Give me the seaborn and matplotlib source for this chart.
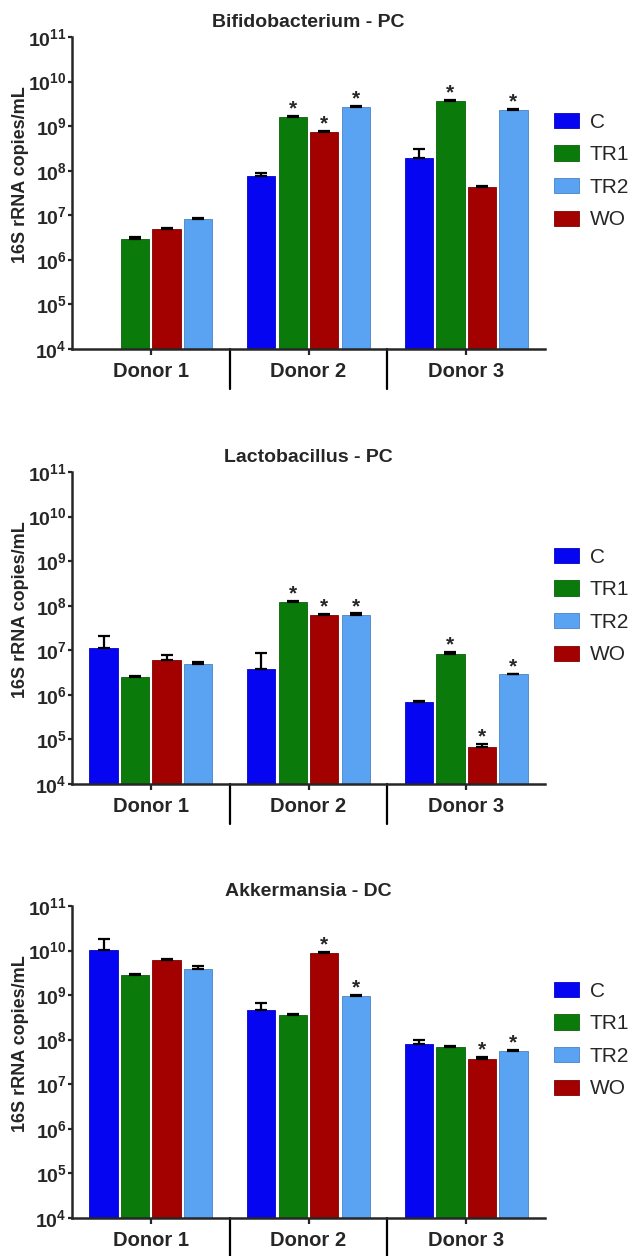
import numpy as np
import pandas as pd
import matplotlib
matplotlib.use("Agg")
import matplotlib.pyplot as plt
import matplotlib.transforms as mtransforms
from matplotlib.ticker import FixedLocator, FuncFormatter, NullLocator
import seaborn as sns

donors = ["Donor 1", "Donor 2", "Donor 3"]
groups = ["C", "TR1", "WO", "TR2"]           # bar order inside each donor
legend_order = ["C", "TR1", "TR2", "WO"]
palette = {"C": "#0505F2", "TR1": "#0A7A0A", "WO": "#A30000", "TR2": "#5AA3F2"}

titles = ["Bifidobacterium - PC", "Lactobacillus - PC", "Akkermansia - DC"]

# bar heights per donor, columns C, TR1, WO, TR2 (None = no bar)
bifido_mean = [[None, 2.9e6, 4.9e6, 8.1e6],
               [7.7e7, 1.63e9, 7.3e8, 2.7e9],
               [1.93e8, 3.7e9, 4.3e7, 2.35e9]]
bifido_top = [[None, 3.2e6, 5.25e6, 8.8e6],
              [8.8e7, 1.72e9, 7.8e8, 2.9e9],
              [3.0e8, 3.95e9, 4.6e7, 2.48e9]]
bifido_stars = [("Donor 2", "TR1"), ("Donor 2", "WO"), ("Donor 2", "TR2"),
                ("Donor 3", "TR1"), ("Donor 3", "TR2")]

lacto_mean = [[1.12e7, 2.5e6, 6.0e6, 4.9e6],
              [3.9e6, 1.2e8, 6.15e7, 6.3e7],
              [6.8e5, 8.2e6, 6.6e4, 2.88e6]]
lacto_top = [[2.05e7, 2.63e6, 7.8e6, 5.4e6],
             [8.5e6, 1.28e8, 6.6e7, 6.7e7],
             [7.2e5, 9.1e6, 7.9e4, 3.0e6]]
lacto_stars = [("Donor 2", "TR1"), ("Donor 2", "WO"), ("Donor 2", "TR2"),
               ("Donor 3", "TR1"), ("Donor 3", "WO"), ("Donor 3", "TR2")]

akker_mean = [[1.05e10, 2.8e9, 6.2e9, 3.95e9],
              [4.7e8, 3.5e8, 9.0e9, 9.7e8],
              [8.1e7, 6.7e7, 3.6e7, 5.6e7]]
akker_top = [[1.8e10, 2.98e9, 6.6e9, 4.6e9],
             [6.5e8, 3.7e8, 9.5e9, 1.02e9],
             [1.0e8, 7.2e7, 4.2e7, 6.0e7]]
akker_stars = [("Donor 2", "WO"), ("Donor 2", "TR2"),
               ("Donor 3", "WO"), ("Donor 3", "TR2")]

panels = [(bifido_mean, bifido_top, bifido_stars),
          (lacto_mean, lacto_top, lacto_stars),
          (akker_mean, akker_top, akker_stars)]

sns.set_style("ticks")
plt.rcParams["font.family"] = ["Liberation Sans", "DejaVu Sans"]
plt.rcParams["mathtext.fontset"] = "custom"
plt.rcParams["mathtext.rm"] = "Liberation Sans"
plt.rcParams["mathtext.bf"] = "Liberation Sans:bold"

W, H = 639, 1256
fig = plt.figure(figsize=(W / 100, H / 100), dpi=100)
tops_px = [37, 472, 906]
ax_h = 312


def darker(c, f=0.8):
    r, g, b = matplotlib.colors.to_rgb(c)
    return (r * f, g * f, b * f)


for (means, tops, stars), title, top_px in zip(panels, titles, tops_px):
    ax = fig.add_axes([72 / W, 1 - (top_px + ax_h) / H, 473 / W, ax_h / H])
    ax.set_yscale("log")

    rows = []
    for i, d in enumerate(donors):
        for j, g in enumerate(groups):
            if means[i][j] is not None:
                rows.append({"donor": d, "group": g, "value": means[i][j],
                             "top": tops[i][j]})
    df = pd.DataFrame(rows)

    sns.barplot(data=df, x="donor", y="value", hue="group", order=donors,
                hue_order=groups, palette=palette, errorbar=None, width=0.8,
                gap=0.1, ax=ax, saturation=1)
    for p in ax.patches:
        p.set_edgecolor(darker(p.get_facecolor()))
        p.set_linewidth(0.6)

    xs = df["donor"].map(donors.index) + (df["group"].map(groups.index) - 1.5) * 0.2
    ax.errorbar(xs, df["value"], yerr=[np.zeros(len(df)), df["top"] - df["value"]],
                fmt="none", ecolor="black", elinewidth=1.6, capsize=4.5,
                capthick=1.6, zorder=3)

    for d, g in stars:
        r = df[(df["donor"] == d) & (df["group"] == g)].iloc[0]
        x = donors.index(d) + (groups.index(g) - 1.5) * 0.2
        ax.annotate("*", (x, r["top"]), xytext=(0, 1), textcoords="offset points",
                    ha="center", va="baseline", fontsize=15, fontweight="bold")

    ax.set_ylim(1e4, 1e11)
    ax.set_xlim(-0.5, 2.5)
    ax.yaxis.set_major_locator(FixedLocator([10.0 ** k for k in range(4, 12)]))
    ax.yaxis.set_minor_locator(NullLocator())
    ax.yaxis.set_major_formatter(FuncFormatter(
        lambda v, pos: r"$\mathbf{10^{%d}}$" % int(round(np.log10(v)))))
    ax.tick_params(axis="y", labelsize=14, width=1.6, length=3, pad=0.8)
    ax.tick_params(axis="x", labelsize=14.5, width=1.6, length=4, pad=5.5)
    for lab in ax.get_xticklabels():
        lab.set_fontweight("bold")
    ax.set_xlabel("")
    ax.set_ylabel("16S rRNA copies/mL", fontsize=13, fontweight="bold")
    ax.yaxis.set_label_coords(-0.09, 0.56)
    ax.set_title(title, fontsize=14, fontweight="bold", pad=7)
    sns.despine(ax=ax)
    for s in ["left", "bottom"]:
        ax.spines[s].set_linewidth(1.8)

    # group separators below the axis
    trans = mtransforms.blended_transform_factory(ax.transData, ax.transAxes)
    for xv in [0.5, 1.5]:
        ax.plot([xv, xv], [0, -40 / ax_h], transform=trans, color="black",
                lw=1.6, clip_on=False)

    handles, labels = ax.get_legend_handles_labels()
    hmap = dict(zip(labels, handles))
    ax.legend([hmap[k] for k in legend_order], legend_order, loc="center left",
              bbox_to_anchor=(1.02, 0.57), frameon=False, fontsize=15,
              handlelength=1.2, handleheight=0.75, handletextpad=0.5,
              labelspacing=0.65, borderaxespad=0, borderpad=0)

fig.savefig("out.png", dpi=100)
